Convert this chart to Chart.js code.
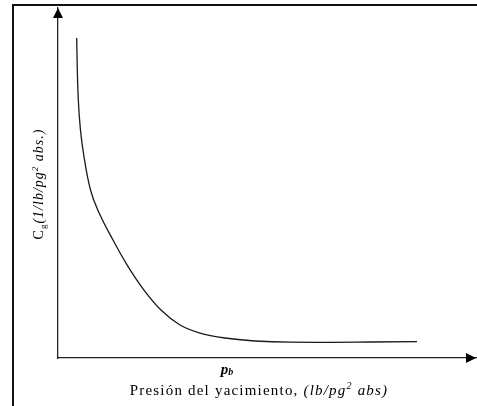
<!DOCTYPE html>
<html>
<head>
<meta charset="utf-8">
<script src="https://cdn.jsdelivr.net/npm/chart.js@4/dist/chart.umd.min.js"></script>
<style>
  html, body { margin: 0; padding: 0; background: #fff; }
  #wrap { position: relative; width: 477px; height: 406px; }
</style>
</head>
<body>
<div id="wrap"><canvas id="c"></canvas></div>
<script>
// Gas compressibility vs. reservoir pressure (relative units)
const pressure = [4.47, 4.62, 4.86, 5.38, 6.34, 7.78, 10.05, 13.16, 16.51, 20.57, 24.64, 29.19, 33.97, 39.95, 47.13, 55.50, 65.07, 74.64, 85.89];
const cg       = [91.4, 82.3, 73.7, 65.1, 56.6, 48.0, 40.9, 33.7, 26.6, 19.4, 13.7, 9.43, 7.14, 5.71, 4.86, 4.51, 4.49, 4.57, 4.66];

const SERIF = '"Liberation Serif", "Times New Roman", serif';

// Rich-text runs for the axis captions: [text, style, size, baselineShift]
const yCaption = [
  ['C', '', 14, 0],
  ['g', '', 9, 3],
  ['(1/lb/pg', 'italic', 14, 0],
  ['2', 'italic', 9, -5],
  [' abs.)', 'italic', 14, 0]
];
const xCaption = [
  ['Presión del yacimiento, ', '', 15, 0],
  ['(lb/pg', 'italic', 15, 0],
  ['2', 'italic', 10, -6],
  [' abs)', 'italic', 15, 0]
];
const pbCaption = [
  ['p', 'italic bold', 15, 0],
  ['b', 'italic bold', 10, 1]
];

function runsWidth(ctx, runs, spacing) {
  let w = 0;
  for (const [t, st, sz] of runs) {
    ctx.font = `${st} ${sz}px ${SERIF}`;
    ctx.letterSpacing = spacing + 'px';
    w += ctx.measureText(t).width;
  }
  return w;
}
function drawRuns(ctx, runs, cx, baseY, spacing) {
  const total = runsWidth(ctx, runs, spacing);
  let x = cx - total / 2;
  ctx.textBaseline = 'alphabetic';
  ctx.textAlign = 'left';
  for (const [t, st, sz, dy] of runs) {
    ctx.font = `${st} ${sz}px ${SERIF}`;
    ctx.letterSpacing = spacing + 'px';
    ctx.fillText(t, x, baseY + dy);
    x += ctx.measureText(t).width;
  }
  ctx.letterSpacing = '0px';
}

const decorations = {
  id: 'decorations',
  beforeDraw(chart) {
    const ctx = chart.ctx;
    ctx.save();
    // outer frame (left and top edges)
    ctx.strokeStyle = '#111';
    ctx.lineWidth = 2;
    ctx.beginPath();
    ctx.moveTo(13, 406);
    ctx.lineTo(13, 5);
    ctx.lineTo(477, 5);
    ctx.stroke();
    ctx.restore();
  },
  afterDraw(chart) {
    const ctx = chart.ctx;
    const xs = chart.scales.x, ys = chart.scales.y;
    const ox = xs.getPixelForValue(xs.min);
    const oy = ys.getPixelForValue(ys.min);
    const top = ys.getPixelForValue(ys.max);
    const right = xs.getPixelForValue(xs.max);
    ctx.save();
    ctx.fillStyle = '#000';
    // arrowheads at the axis ends
    ctx.beginPath();
    ctx.moveTo(ox, top);
    ctx.lineTo(ox - 5, top + 10);
    ctx.lineTo(ox + 5, top + 10);
    ctx.closePath();
    ctx.fill();
    ctx.beginPath();
    ctx.moveTo(right, oy);
    ctx.lineTo(right - 10, oy - 5);
    ctx.lineTo(right - 10, oy + 5);
    ctx.closePath();
    ctx.fill();

    // captions
    ctx.fillStyle = '#000';
    drawRuns(ctx, pbCaption, 227, 374, 0);
    drawRuns(ctx, xCaption, 259, 395, 1.2);
    ctx.save();
    ctx.translate(43, 184);
    ctx.rotate(-Math.PI / 2);
    drawRuns(ctx, yCaption, 0, 0, 1);
    ctx.restore();
    ctx.restore();
  }
};

new Chart(document.getElementById('c'), {
  type: 'line',
  data: {
    datasets: [{
      data: pressure.map((p, i) => ({ x: p, y: cg[i] })),
      borderColor: '#1a1a1a',
      borderWidth: 1.3,
      pointRadius: 0,
      fill: false,
      cubicInterpolationMode: 'monotone'
    }]
  },
  options: {
    responsive: true,
    maintainAspectRatio: false,
    devicePixelRatio: 1,
    animation: false,
    layout: { padding: { left: 58, right: 1, top: 8, bottom: 48 } },
    plugins: { legend: { display: false }, tooltip: { enabled: false } },
    scales: {
      x: {
        type: 'linear', min: 0, max: 100,
        ticks: { display: false },
        grid: { display: false, drawTicks: false },
        border: { display: true, color: '#222', width: 1.3 },
        afterFit(s) { s.height = 0; }
      },
      y: {
        type: 'linear', min: 0, max: 100,
        ticks: { display: false },
        grid: { display: false, drawTicks: false },
        border: { display: true, color: '#222', width: 1.3 },
        afterFit(s) { s.width = 0; }
      }
    }
  },
  plugins: [decorations]
});
</script>
</body>
</html>
